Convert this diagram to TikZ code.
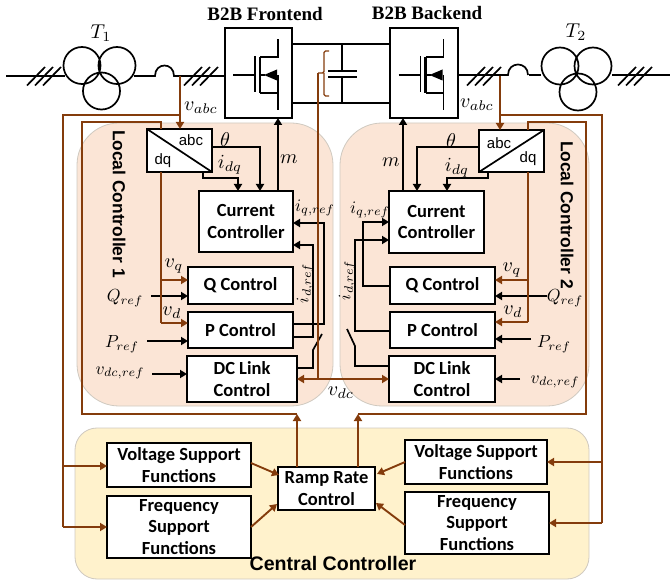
\documentclass[tikz,border=0pt]{standalone}
\usepackage{fontspec}
\usetikzlibrary{arrows.meta}
\newfontfamily\cbfont{Carlito}
\newfontfamily\lsfont{Liberation Sans}
\newfontfamily\lrfont{Liberation Serif}
\definecolor{brw}{HTML}{843C0C}
\definecolor{panelA}{HTML}{FBE5D6}
\definecolor{panelB}{HTML}{FFF2CC}
\definecolor{edgeG}{HTML}{CFC9C0}
\newcommand\bbox[6]{\node[bx,minimum width={#4-#2},minimum height={#5-#3}] (#1) at ({(#2+#4)/2},{(#3+#5)/2}) {#6};}
\newcommand\fet[2]{%
  \draw[bl] (#1,75) -- (#1+22,75);
  \draw[bl] (#1+22,56) -- (#1+22,92);
  \draw[bl,line width=2.2pt] (#1+27,57) -- (#1+27,93);
  \draw[bl] (#1+27,57) -- (#1+45,57) -- (#1+45,39);
  \draw[bl] (#1+27,93) -- (#1+45,93) -- (#1+45,110);
  \draw[bl] (#1+45,75) -- (#1+45,93);
  \draw[bl] (#1+27,75) -- (#1+32,75);
  \fill (#1+31,75) -- (#1+44,69.5) -- (#1+44,80.5) -- cycle;
}
\newcommand\hashes[1]{%
  \foreach \dx in {0,8,16} {\draw[bl] (#1+\dx,85.5) -- (#1+\dx+18,67);}
}
\tikzset{
  bl/.style={line width=1.7pt,draw=black},
  br/.style={line width=1.9pt,draw=brw},
  blA/.style={bl,-{Triangle[length=7pt,width=8pt]}},
  brA/.style={br,-{Triangle[length=7pt,width=8pt]},},
  bx/.style={draw=black,line width=2pt,fill=white,inner sep=0pt,outer sep=0pt,align=center,
    font=\cbfont\bfseries\fontsize{18.5}{21.5}\selectfont},
  ml/.style={inner sep=0pt,scale=2},
  mr/.style={inner sep=0pt,scale=1.75},
  pan/.style={line width=.8pt,draw=edgeG},
  ttl/.style={inner sep=0pt,font=\lrfont\bfseries\fontsize{19}{22}\selectfont},
  sn/.style={inner sep=0pt,font=\lsfont\bfseries\fontsize{17.4}{20}\selectfont},
  cv/.style={inner sep=0pt,font=\lsfont\fontsize{15}{16}\selectfont},
}
\begin{document}
\begin{tikzpicture}[x=1pt,y=-1pt]
\useasboundingbox (0,0) rectangle (670,580);
% panels
\fill[panelA,pan,rounded corners=42pt] (77,123) rectangle (333,406);
\fill[panelA,pan,rounded corners=42pt] (340,123) rectangle (589,406);
\fill[panelB,pan,rounded corners=22pt] (75,428) rectangle (589,579);
% boxes
\bbox{feL}{225}{28}{292}{118}{}
\bbox{beR}{390}{28}{458}{118}{}
\bbox{abcL}{147}{129}{212}{172}{}
\bbox{abcR}{479}{130}{544}{172}{}
\bbox{curL}{199}{191}{293}{252}{Current\\Controller}
\bbox{curR}{389}{191}{484}{253}{Current\\Controller}
\bbox{qL}{188}{267}{293}{304}{Q Control}
\bbox{pL}{188}{312}{293}{348}{P Control}
\bbox{dcL}{187}{356}{297}{402}{DC Link\\Control}
\bbox{qR}{390}{267}{495}{304}{Q Control}
\bbox{pR}{390}{312}{495}{348}{P Control}
\bbox{dcR}{389}{356}{495}{402}{DC Link\\Control}
\bbox{vL}{107}{443}{251}{487}{Voltage Support\\Functions}
\bbox{fL}{107}{496}{251}{558}{Frequency\\Support\\Functions}
\bbox{ramp}{278}{467}{375}{510}{Ramp Rate\\Control}
\bbox{vR}{405}{440}{547}{484}{Voltage Support\\Functions}
\bbox{fR}{405}{492}{549}{554}{Frequency\\Support\\Functions}
% converters
\draw[bl] (abcL.north west) -- (abcL.south east);
\draw[bl] (abcR.south west) -- (abcR.north east);
\node[cv] (tabcL) at (191,140) {abc};
\node[cv] (tdqL) at (163,161) {dq};
\node[cv] (tabcR) at (499,143) {abc};
\node[cv] (tdqR) at (528,159) {dq};
\fet{233}{}
\fet{398.5}{}
% grid
\coordinate (gridL) at (6,76);
\coordinate (gridR) at (670,75);
\draw[bl] (gridL) -- (65,76);
\draw[bl] (134,76) -- (155,76) .. controls (155,62) and (174,62) .. (174,76) -- (feL.west |- 0,76);
\draw[bl] (beR.east |- 0,75) -- (508,75) .. controls (508,61) and (528,61) .. (528,75);
\draw[bl] (529,75) -- (541,75);
\draw[bl] (612,75) -- (gridR);
\hashes{27}\hashes{184}\hashes{467}\hashes{618}
\draw[bl] (82,65.5) circle[radius=18.5pt] (117,65.5) circle[radius=18.5pt] (101.5,91) circle[radius=18.5pt];
\draw[bl] (560,66) circle[radius=18.5pt] (593,66) circle[radius=18.5pt] (578,92) circle[radius=18.5pt];
% dc bus
\draw[bl] (feL.east |- 0,44) -- (beR.west |- 0,44);
\draw[bl] (feL.east |- 0,103) -- (beR.west |- 0,103);
\draw[bl] (342,44) -- (342,71) (342,77) -- (342,103);
\draw[line width=2pt] (328,71) -- (357,71) (328,77) -- (357,77);
\draw[br,line width=1.4pt,rounded corners=1.5pt] (329,51) -- (324,51) -- (324,73) -- (318,73) (324,73) -- (324,96) -- (329,96);
% black control wires
\draw[blA] (abcL.east |- 0,147) -| (curL.north -| 260,0);
\draw[blA] (abcL.south -| 203,0) -- (203,178) -| (curL.north -| 238,0);
\draw[blA] (curL.north -| 278,0) -- (feL.south -| 278,0);
\draw[blA] (abcR.west |- 0,147) -| (curR.north -| 417,0);
\draw[blA] (abcR.south -| 488,0) -- (488,178) -| (curR.north -| 447,0);
\draw[blA] (curR.north -| 403,0) -- (beR.south -| 403,0);
\draw[blA] (pL.east |- 0,324) -| (324,223) -- (curL.east |- 0,223);
\draw[blA] (pL.east |- 0,337) -| (313,245) -- (curL.east |- 0,245);
\draw[bl] (dcL.east |- 0,368) -| (313,350) -- (322,334);
\draw[blA] (qR.west |- 0,286) -| (363,222) -- (curR.west |- 0,222);
\draw[blA] (pR.west |- 0,331) -| (355,240) -- (curR.west |- 0,240);
\draw[bl] (dcR.west |- 0,366) -| (355,346) -- (347,329);
\coordinate (qrefL) at (151,296);
\coordinate (prefL) at (147,341);
\coordinate (vrefL) at (152,374);
\coordinate (qrefR) at (547,296);
\coordinate (prefR) at (531,339);
\coordinate (vrefR) at (520,379);
\draw[blA] (qrefL) -- (qL.west |- qrefL);
\draw[blA] (prefL) -- (pL.west |- prefL);
\draw[blA] (vrefL) -- (dcL.west |- vrefL);
\draw[blA] (qrefR) -- (qR.east |- qrefR);
\draw[blA] (prefR) -- (pR.east |- prefR);
\draw[blA] (vrefR) -- (dcR.east |- vrefR);
% brown wires
\draw[brA] (180,76) -- (abcL.north -| 180,0);
\draw[br] (180,115) -- (63,115) -- (63,527);
\draw[brA] (63,466) -- (vL.west |- 0,466);
\draw[brA] (63,527) -- (fL.west |- 0,527);
\draw[br] (abcL.north -| 161,0) -- (161,122) -- (82,122) -- (82,414) -- (297,414);
\draw[brA] (ramp.north -| 297,0) -- (297,414);
\draw[br] (abcL.south -| 161,0) -- (161,323);
\draw[brA] (161,280) -- (qL.west |- 0,280);
\draw[brA] (161,323) -- (pL.west |- 0,323);
\draw[brA] (500,76) -- (abcR.north -| 500,0);
\draw[br] (500,115) -- (602,115) -- (602,523);
\draw[brA] (602,462) -- (vR.east |- 0,462);
\draw[brA] (602,523) -- (fR.east |- 0,523);
\draw[br] (abcR.north -| 528,0) -- (528,122) -- (586,122) -- (586,414) -- (358,414);
\draw[brA] (ramp.north -| 358,0) -- (358,414);
\draw[br] (abcR.south -| 528,0) -- (528,322);
\draw[brA] (528,280) -- (qR.east |- 0,280);
\draw[brA] (528,322) -- (pR.east |- 0,322);
\draw[br] (318,73) -- (318,379);
\draw[br,{Triangle[length=7pt,width=8pt]}-{Triangle[length=7pt,width=8pt]}] (dcL.east |- 0,379) -- (dcR.west |- 0,379);
\draw[brA] (vL.east |- 0,463) -- (279,475);
\draw[brA] (fL.east |- 0,527) -- (277,504);
\draw[brA] (vR.west |- 0,462) -- (377,474);
\draw[brA] (fR.west |- 0,525) -- (376,503);
% titles
\node[ttl] (tfe) at (265,14) {B2B Frontend};
\node[ttl] (tbe) at (427,13) {B2B Backend};
\node[sn,rotate=-90] (lc1) at (119,204) {Local Controller 1};
\node[sn,rotate=-90] (lc2) at (567,215) {Local Controller 2};
\node[sn,font=\lsfont\bfseries\fontsize{19.6}{22}\selectfont] (cc) at (333,563) {Central Controller};
% math labels
\node[ml] (t1) at (101,33) {$T_1$};
\node[ml] (t2) at (576,32) {$T_2$};
\node[ml] (m1) at (201,108) {$v_{abc}$};
\node[ml] (m2) at (477,105) {$v_{abc}$};
\node[ml] (m3) at (225,140) {$\theta$};
\node[ml] (m4) at (451,141) {$\theta$};
\node[ml] (m5) at (230,165) {$i_{dq}$};
\node[ml] (m6) at (457,168) {$i_{dq}$};
\node[ml] (m7) at (289,159) {$m$};
\node[ml] (m8) at (391,162) {$m$};
\node[mr] (m9) at (315,208) {$i_{q,ref}$};
\node[mr] (m10) at (370,210) {$i_{q,ref}$};
\node[mr,rotate=90] (m11) at (305,283) {$i_{d,ref}$};
\node[mr,rotate=90] (m12) at (347,280) {$i_{d,ref}$};
\node[ml] (m13) at (174,266) {$v_q$};
\node[ml] (m14) at (172,313) {$v_d$};
\node[ml] (m15) at (512,270) {$v_q$};
\node[ml] (m16) at (513,312) {$v_d$};
\node[mr] (m17) at (125,298) {$Q_{ref}$};
\node[mr] (m18) at (565,298) {$Q_{ref}$};
\node[mr] (m19) at (122,344) {$P_{ref}$};
\node[mr] (m20) at (554,344) {$P_{ref}$};
\node[mr] (m21) at (120,373) {$v_{dc,ref}$};
\node[mr] (m22) at (555,382) {$v_{dc,ref}$};
\node[ml] (m23) at (341,393) {$v_{dc}$};
\end{tikzpicture}
\end{document}
